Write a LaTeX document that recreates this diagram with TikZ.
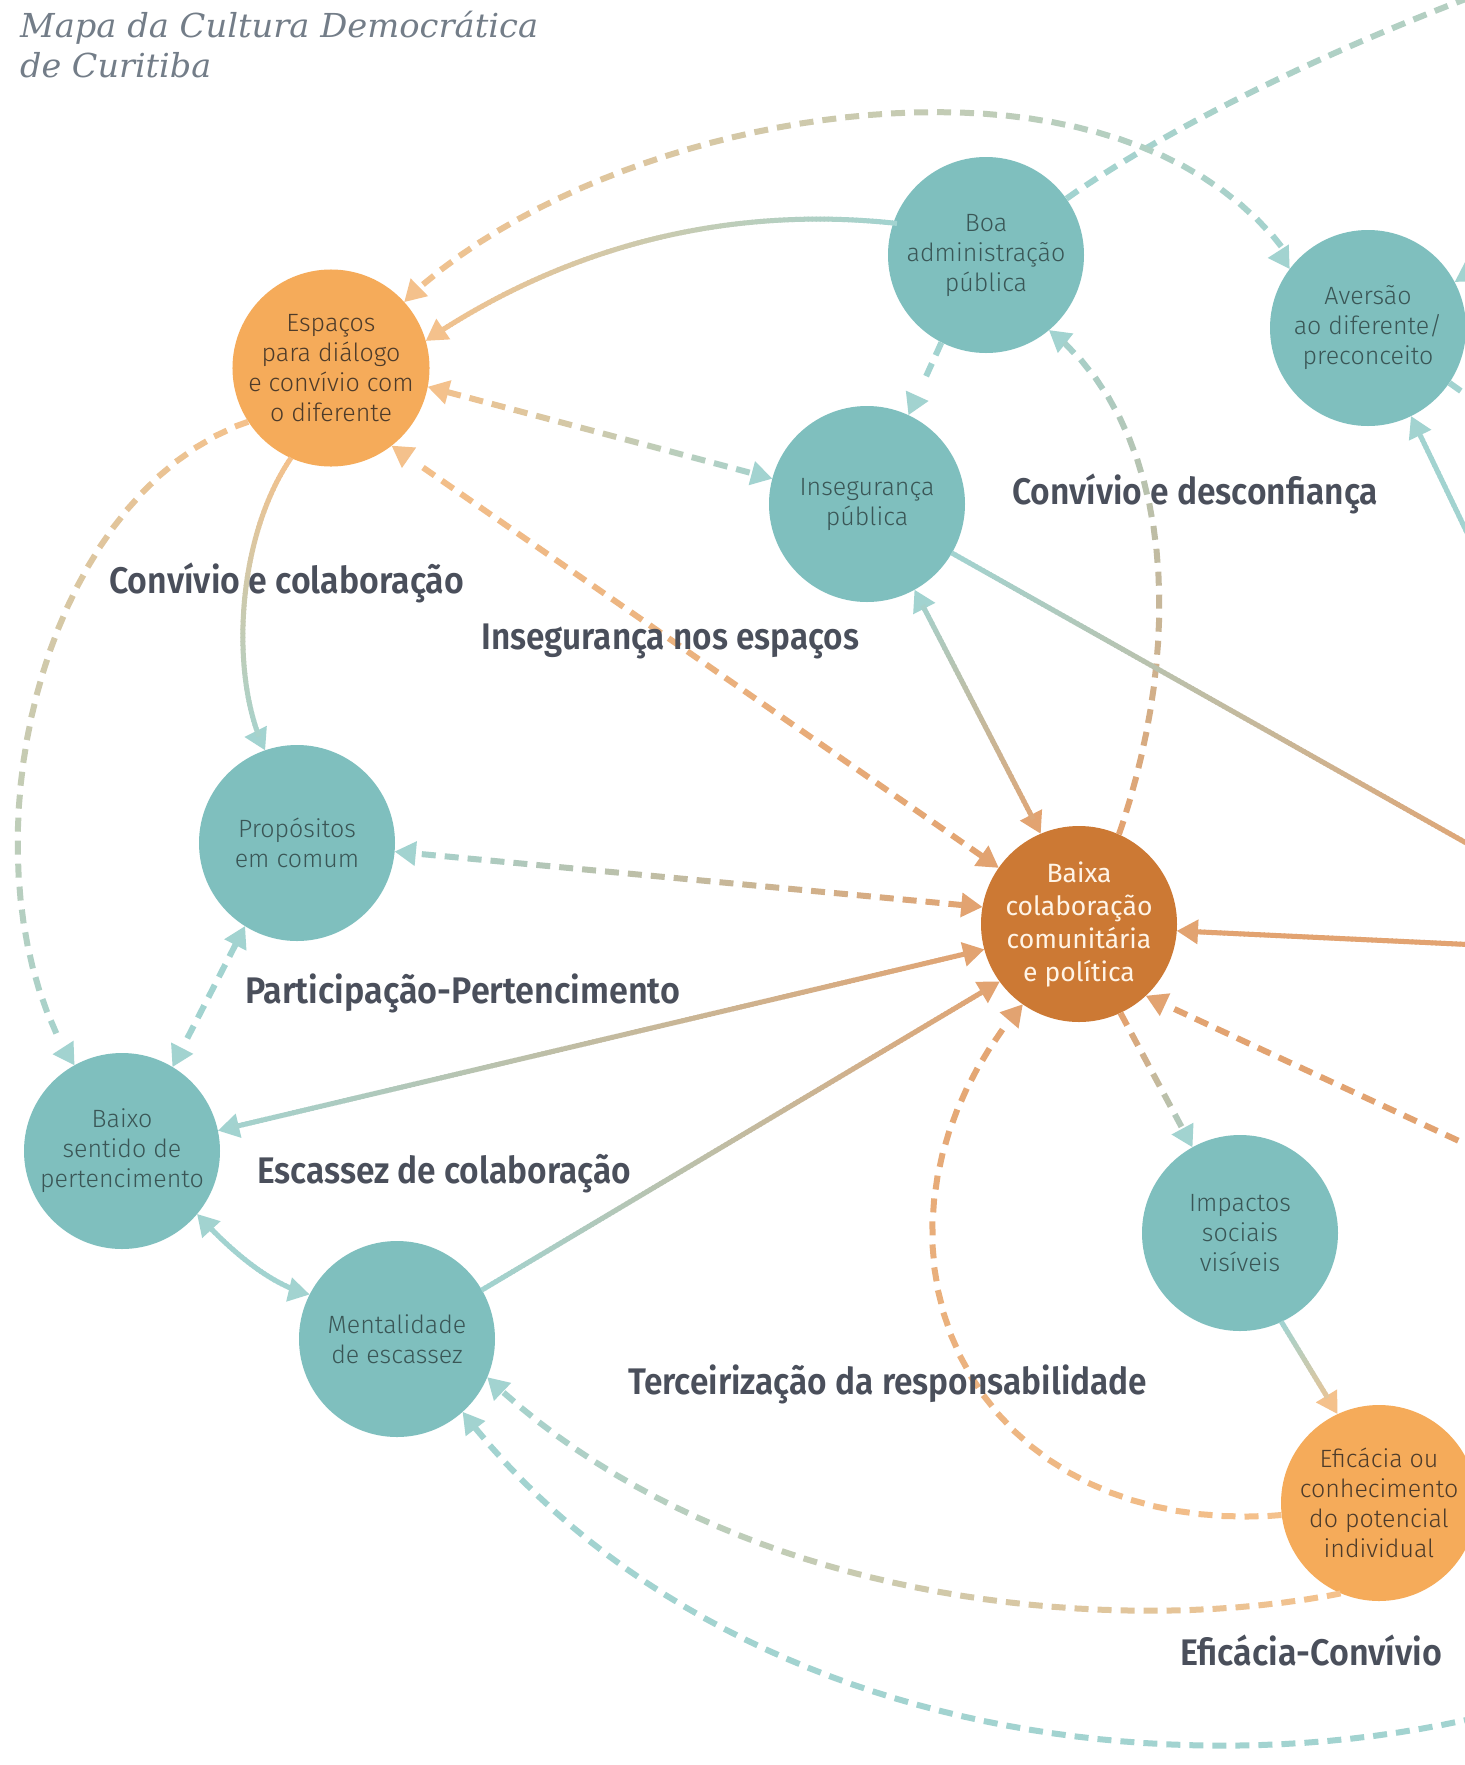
\documentclass[tikz,border=0pt]{standalone}
\usepackage{fontspec}
\usepackage{graphicx}
\usetikzlibrary{decorations.markings}

\newfontfamily\nodefont{Fira Sans Light}
\newfontfamily\nodefontreg{Fira Sans}
\newfontfamily\labfont{Fira Sans SemiBold}
\newfontfamily\titlefont{DejaVu Serif}

\definecolor{tealfill}{HTML}{7FBFBE}
\definecolor{orfill}{HTML}{F5AB5A}
\definecolor{baixafill}{HTML}{CC7934}
\definecolor{tealtxt}{HTML}{3A5656}
\definecolor{ortxt}{HTML}{4D3B2A}
\definecolor{baixatxt}{HTML}{FFF4E6}
\definecolor{tl}{HTML}{A2D3D0}
\definecolor{ol}{HTML}{F4C18C}
\definecolor{dl}{HTML}{E2A371}
\definecolor{labcol}{HTML}{4A4F5B}
\definecolor{titlecol}{HTML}{737D88}

% colour of a piece of a connector, blended by its distance along the path
\newcommand\gsetcol{%
  \pgfmathsetmacro\gfr{\pgfkeysvalueof{/pgf/decoration/mark info/distance from start}/\pgfdecoratedpathlength}%
  \pgfmathsetmacro\gfr{min(100,max(0,100*\gfr))}%
  \colorlet{segc}{gB!\gfr!gA}}

\def\gstartS{0pt}\def\gendS{1}
\def\gstartD{0pt}\def\gendD{-14pt}

\tikzset{
  circ/.style={circle, minimum size=196pt, inner sep=0pt, align=center},
  tnode/.style={circ, fill=tealfill, text=tealtxt, font=\nodefont\fontsize{25}{30}\selectfont},
  onode/.style={circ, fill=orfill, text=ortxt, font=\nodefont\fontsize{25}{30}\selectfont},
  bnode/.style={circ, fill=baixafill, text=baixatxt, font=\nodefontreg\fontsize{26.5}{33}\selectfont},
  lab/.style={text=labcol, font=\labfont\fontsize{37}{42}\selectfont, inner sep=0pt, anchor=base west},
  ttl/.style={text=titlecol, font=\titlefont\itshape\fontsize{33}{40}\selectfont, inner sep=0pt, anchor=base west},
  cols/.code 2 args={\colorlet{gA}{#1}\colorlet{gB}{#2}},
  tipend/.style={/utils/exec={\def\gendS{-20pt}\def\gendD{-34pt}},
    decoration={mark=at position -0.01pt with {\fill[gB] (0,0) -- (-21,12.5) -- (-21,-12.5) -- cycle;}}},
  tipstart/.style={/utils/exec={\def\gstartS{18pt}\def\gstartD{20pt}},
    decoration={mark=at position 0.01pt with {\fill[gA] (0,0) -- (21,12.5) -- (21,-12.5) -- cycle;}}},
  gsolid/.style={decorate, decoration={markings,
    mark=between positions \gstartS\space and \gendS\space step 4pt with {\gsetcol\draw[line width=5pt, segc] (-0.6,0) -- (4.6,0);}}},
  gdash/.style={decorate, decoration={markings,
    mark=between positions \gstartD\space and \gendD\space step 23pt with {\gsetcol\draw[line width=6pt, segc] (0,0) -- (14,0);}}},
}

\begin{document}
\begin{tikzpicture}[x=1pt,y=-1pt]
\useasboundingbox (0,0) rectangle (1465,1765);
\fill[white] (0,0) rectangle (1465,1765);
\clip (0,0) rectangle (1465,1765);

% title
\node[ttl] (t1) at (20,37) {\resizebox{518pt}{\height}{Mapa da Cultura Democrática}};
\node[ttl] (t2) at (20,77) {\resizebox{191pt}{\height}{de Curitiba}};

% circles
\node[onode] (esp) at (331,368) {Espaços\\para diálogo\\e convívio com\\o diferente};
\node[tnode] (boa) at (986,255) {Boa\\administração\\pública};
\node[tnode] (av) at (1368,328) {Aversão\\ao diferente/\\preconceito};
\node[tnode] (ins) at (867,504) {Insegurança\\pública};
\node[tnode] (prop) at (297,843) {Propósitos\\em comum};
\node[bnode] (bx) at (1079,924) {Baixa\\colaboração\\comunitária\\e política};
\node[tnode] (bs) at (122,1151) {Baixo\\sentido de\\pertencimento};
\node[tnode] (men) at (397,1339) {Mentalidade\\de escassez};
\node[tnode] (imp) at (1240,1233) {Impactos\\sociais\\visíveis};
\node[onode] (ef) at (1379,1503) {Eficácia ou\\conhecimento\\do potencial\\individual};

% loose ends running off the right and bottom edges
\coordinate (offA) at (1495,-12);
\coordinate (offB) at (1500,862);
\coordinate (offC) at (1500,946);
\coordinate (offD) at (1500,1160);
\coordinate (offE) at (1485,570);
\coordinate (offF) at (1500,1712);
\coordinate (offG) at (1530,235);
\coordinate (offH) at (1530,440);

% short stubs at the right edge
\path[cols={tl}{tl}, gdash] (av.-34) -- (offH);
\path[tipend, cols={tl}{tl}, gsolid] (offG) -- (av.28);

% dashed connectors
\path[cols={tl}{tl!75!ol}, gdash] (boa.35) .. controls (1150,140) and (1300,60) .. (offA);
\path[tipend, cols={tl}{tl}, gdash] (boa.-117) -- (ins.65);
\path[tipstart, tipend, cols={ol}{tl}, gdash] (esp.-11) -- (ins.165);
\path[tipstart, tipend, cols={dl}{ol}, gdash] (bx.145) -- (esp.-52);
\path[tipend, cols={ol}{tl}, gdash] (esp.-147) .. controls (30,500) and (-45,880) .. (bs.119);
\path[tipstart, tipend, cols={tl}{tl}, gdash] (prop.-122) -- (bs.59);
\path[tipstart, tipend, cols={dl}{tl}, gdash] (bx.170) -- (prop.-5);
\path[tipend, cols={ol}{dl}, gdash] (ef.-173) .. controls (960,1540) and (830,1230) .. (bx.-125);
\path[tipend, cols={ol}{tl}, gdash] (ef.-113) .. controls (1100,1640) and (720,1600) .. (men.-23);
\path[tipend, cols={tl}{tl}, gdash] (offF) .. controls (1150,1800) and (700,1720) .. (men.-48);
\path[tipend, cols={dl}{tl}, gdash] (bx.66) .. controls (1185,640) and (1175,430) .. (boa.-50);
\path[tipend, cols={dl}{tl}, gdash] (bx.-65) -- (imp.119);
\path[tipend, cols={dl}{dl}, gdash] (offD) -- (bx.-47);
\path[tipstart, tipend, cols={tl}{ol}, gdash] (av.143) .. controls (1207,140) and (1035,100) .. (859,116)
   .. controls (682,133) and (502,206) .. (esp.42);

% solid connectors
\path[tipend, cols={ol}{tl}, gsolid] (esp.-114) .. controls (235,540) and (230,680) .. (prop.109);
\path[tipstart, tipend, cols={dl}{tl}, gsolid] (bx.-165) -- (bs.12);
\path[tipend, cols={tl}{dl}, gsolid] (men.30) -- (bx.-144);
\path[tipstart, tipend, cols={tl}{tl}, gsolid] (bs.-40) .. controls (230,1250) and (270,1285) .. (men.153);
\path[tipend, cols={tl}{ol}, gsolid] (imp.-65) -- (ef.115);
\path[cols={tl}{dl}, gsolid] (ins.-30) -- (offB);
\path[tipstart, tipend, cols={tl}{dl}, gsolid] (ins.-61) -- (bx.113);
\path[tipend, cols={dl}{dl}, gsolid] (offC) -- (bx.-4);
\path[tipend, cols={tl}{tl}, gsolid] (offE) -- (av.-64);
\path[tipstart, cols={ol}{tl}, gsolid] (esp.16) .. controls (560,250) and (720,205) .. (boa.161);

% group labels
\node[lab] (g1) at (1012,504) {\resizebox{366pt}{\height}{Convívio e desconfiança}};
\node[lab] (g2) at (109,593) {\resizebox{355pt}{\height}{Convívio e colaboração}};
\node[lab] (g3) at (481,649) {\resizebox{378pt}{\height}{Insegurança nos espaços}};
\node[lab] (g4) at (245,1003) {\resizebox{435pt}{\height}{Participação-Pertencimento}};
\node[lab] (g5) at (257,1183) {\resizebox{374pt}{\height}{Escassez de colaboração}};
\node[lab] (g6) at (628,1394) {\resizebox{519pt}{\height}{Terceirização da responsabilidade}};
\node[lab] (g7) at (1180,1665) {\resizebox{262pt}{\height}{Eficácia-Convívio}};
\end{tikzpicture}
\end{document}
